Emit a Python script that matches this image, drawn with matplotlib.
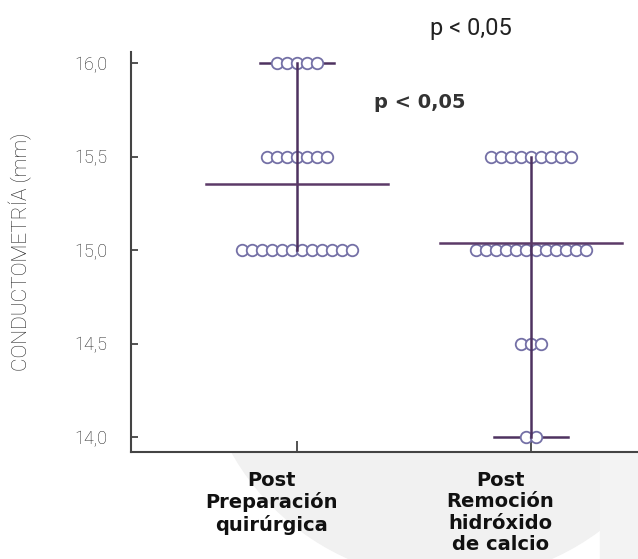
import numpy as np
import matplotlib
matplotlib.use('Agg')
import matplotlib.pyplot as plt
from matplotlib.patches import Ellipse, Rectangle

# data: value levels and how many points sit on each
groups = ['Post\nPreparación\nquirúrgica', 'Post\nRemoción\nhidróxido\nde calcio']
levels_1 = [16.0, 15.5, 15.0]
counts_1 = [5, 7, 12]
levels_2 = [15.5, 15.0, 14.5, 14.0]
counts_2 = [9, 12, 3, 2]
yticks = [14.0, 14.5, 15.0, 15.5, 16.0]
ytick_labels = ['14,0', '14,5', '15,0', '15,5', '16,0']
p_text = 'p < 0,05'

line_col = '#4e3260'
mean_col = '#5c3a68'
dot_col = '#7470a6'
grey = '#222222'

fig = plt.figure(figsize=(6.38, 5.59), dpi=100)

# light decorative shapes behind everything
fig.patches.append(Ellipse((450/638, 1-330/559), 2*250/638, 2*250/559,
                           transform=fig.transFigure, color='#f1f1f1', zorder=-10))
fig.patches.append(Rectangle((600/638, 0), 38/638, 107/559,
                             transform=fig.transFigure, color='#f3f3f3', zorder=-10))

ax = fig.add_axes([131/638, 107/559, 507/638, 400/559])
ax.set_facecolor('white')
ax.set_xlim(0.291, 2.457)
ax.set_ylim(13.92, 16.06)

step = 0.043   # horizontal spacing of stacked dots
cap = 0.16
half_mean = 0.39
for xc, levels, counts in [(1, levels_1, counts_1), (2, levels_2, counts_2)]:
    vals = np.repeat(levels, counts)
    for lv, n in zip(levels, counts):
        xs = xc + (np.arange(n) - (n-1)/2.0)*step
        ax.plot(xs, [lv]*n, 'o', ms=8.3, mfc='white', mec=dot_col, mew=1.3,
                zorder=3, clip_on=False)
    lo, hi = min(levels), max(levels)
    ax.plot([xc, xc], [lo, hi], color=line_col, lw=1.8, zorder=4)
    ax.plot([xc-cap, xc+cap], [lo, lo], color=line_col, lw=1.8, zorder=2)
    ax.plot([xc-cap, xc+cap], [hi, hi], color=line_col, lw=1.8, zorder=2)
    m = vals.mean()
    ax.plot([xc-half_mean, xc+half_mean], [m, m], color=mean_col, lw=1.8, zorder=4)

for s in ['top', 'right']:
    ax.spines[s].set_visible(False)
for s in ['left', 'bottom']:
    ax.spines[s].set_color('#444444')
    ax.spines[s].set_linewidth(1.5)

ax.set_yticks(yticks)
ax.set_yticklabels(ytick_labels, color=grey, fontsize=13, family='Roboto',
                   weight='light')
ax.tick_params(axis='y', direction='in', length=5, width=1.3, color='#444444', pad=17)
ax.set_xticks([1, 2])
ax.set_xticklabels([])
ax.tick_params(axis='x', direction='in', length=8, width=1.3, color='#444444')

ax.set_ylabel('CONDUCTOMETRÍA (mm)', color=grey, fontsize=15, family='Roboto',
              weight='light')
ax.yaxis.set_label_coords(-0.195, 0.5)

# category labels sit a bit left of the group centres
for xc, lab in zip([0.893, 1.868], groups):
    ax.text(xc, 13.82, lab, ha='center', va='top', fontsize=14, weight='heavy',
            family='DejaVu Sans', linespacing=1.17, color='#111111')

fig.text(471/638, 1-29/559, p_text, ha='center', va='center', fontsize=17,
         family='Roboto', color='#222222')
fig.text(420/638, 1-102/559, p_text, ha='center', va='center', fontsize=14,
         weight='bold', family='DejaVu Sans', color='#333333')

fig.savefig('out.png', dpi=100)
